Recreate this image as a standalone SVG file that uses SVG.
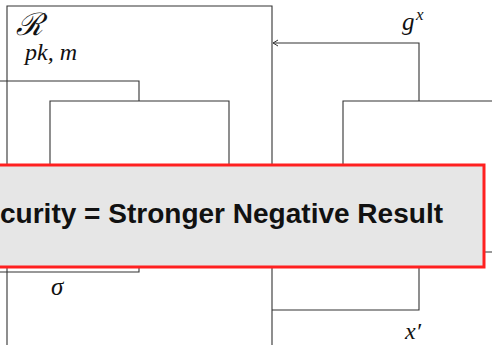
<svg xmlns="http://www.w3.org/2000/svg" width="492" height="345" viewBox="0 0 492 345">
<style>
.ln{fill:none;stroke:#333;stroke-width:1.1}
.m{font-family:"Liberation Serif","DejaVu Serif",serif;font-style:italic;fill:#111}
.ban{fill:#e6e6e6;stroke:#ff2020;stroke-width:3}
.bt{font-family:"Liberation Sans","DejaVu Sans",sans-serif;font-weight:bold;font-size:28px;fill:#111}
</style>
<defs>
<marker id="ah" markerWidth="8" markerHeight="8" refX="6" refY="4" orient="auto" markerUnits="userSpaceOnUse">
<path d="M1,1 L6,4 L1,7" fill="none" stroke="#333" stroke-width="1"/>
</marker>
</defs>
<rect width="492" height="345" fill="#fff"/>
<g id="connectors">
<path class="ln" d="M0,81 H139 V101"/>
<path class="ln" d="M419,101 V43 H273" marker-end="url(#ah)"/>
<path class="ln" d="M0,272 H139 V260"/>
<path class="ln" d="M419,260 V310 H272"/>
</g>
<g id="R">
<path class="ln" d="M7,345 V6 H272 V345"/>
<text class="m" x="16" y="35" font-size="31" font-style="normal" font-family="DejaVu Serif, serif">ℛ</text>
<text class="m" x="25" y="60" font-size="24">pk, m</text>
</g>
<g id="inner">
<path class="ln" d="M50,200 V101 H229 V200"/>
</g>
<g id="right">
<path class="ln" d="M343,200 V101 H492 M485,252 H492"/>
<text class="m" x="402" y="30" font-size="25">g</text>
<text class="m" x="416" y="20" font-size="17">x</text>
</g>
<text class="m" x="51" y="295" font-size="25">σ</text>
<text class="m" x="405" y="339" font-size="24">x′</text>
<g id="banner">
<rect class="ban" x="-5" y="165" width="489" height="102"/>
<text class="bt" x="0" y="223" textLength="443" lengthAdjust="spacingAndGlyphs">curity = Stronger Negative Result</text>
</g>
</svg>
